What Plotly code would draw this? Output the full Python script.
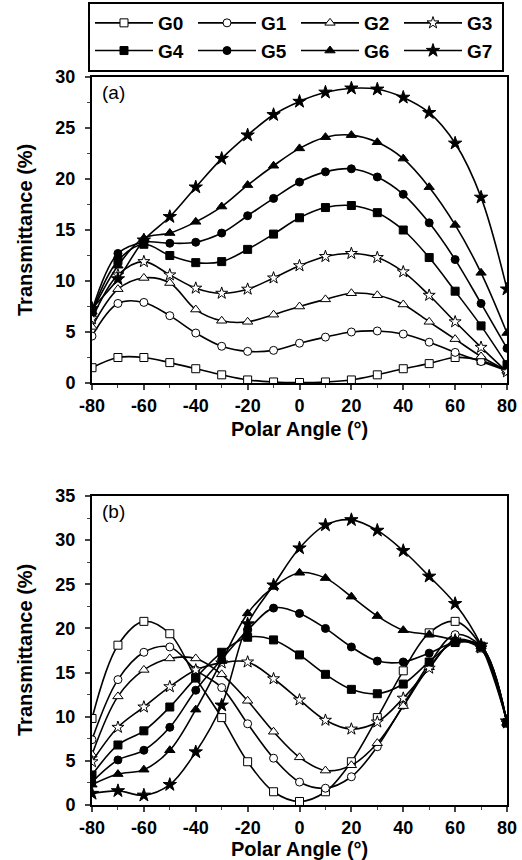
import plotly.graph_objects as go

angles = [-80, -70, -60, -50, -40, -30, -20, -10, 0, 10, 20, 30, 40, 50, 60, 70, 80]
names = ["G0", "G1", "G2", "G3", "G4", "G5", "G6", "G7"]

x_tickvals = [-80, -60, -40, -20, 0, 20, 40, 60, 80]
x_ticktext = ["-80", "-60", "-40", "-20", "0", "20", "40", "60", "80"]
ya_tickvals = [0, 5, 10, 15, 20, 25, 30]
yb_tickvals = [0, 5, 10, 15, 20, 25, 30, 35]
x_title = "Polar Angle (°)"
y_title = "Transmittance (%)"
panel_labels = ["(a)", "(b)"]

a_G0 = [1.5, 2.5, 2.5, 2.0, 1.4, 0.8, 0.3, 0.1, 0.05, 0.1, 0.3, 0.8, 1.4, 1.9, 2.5, 2.2, 1.2]
a_G1 = [4.6, 7.8, 7.9, 6.6, 4.9, 3.6, 3.1, 3.2, 3.9, 4.5, 5.0, 5.1, 4.8, 4.0, 3.0, 2.1, 1.2]
a_G2 = [5.5, 9.2, 10.3, 9.8, 7.2, 6.1, 6.0, 6.7, 7.5, 8.2, 8.8, 8.6, 7.7, 6.0, 4.3, 2.6, 1.2]
a_G3 = [6.3, 10.6, 11.9, 10.6, 9.3, 8.8, 9.2, 10.3, 11.5, 12.4, 12.7, 12.3, 10.9, 8.6, 6.0, 3.5, 1.1]
a_G4 = [7.0, 12.0, 13.6, 12.5, 11.8, 11.9, 13.1, 14.6, 16.2, 17.2, 17.4, 16.7, 15.0, 12.3, 9.0, 5.6, 1.8]
a_G5 = [7.1, 12.7, 13.8, 13.7, 13.8, 14.7, 16.4, 18.1, 19.7, 20.7, 21.0, 20.2, 18.5, 15.7, 12.1, 7.8, 3.4]
a_G6 = [7.0, 11.5, 14.2, 14.7, 15.8, 17.3, 19.4, 21.3, 23.0, 24.1, 24.3, 23.6, 22.0, 19.2, 15.5, 10.8, 4.9]
a_G7 = [7.3, 10.2, 14.0, 16.3, 19.2, 22.0, 24.3, 26.3, 27.6, 28.5, 28.9, 28.8, 28.0, 26.5, 23.5, 18.2, 9.2]

b_G0 = [9.8, 18.1, 20.8, 19.4, 14.4, 9.9, 4.9, 1.5, 0.4, 1.5, 4.9, 9.9, 15.2, 19.5, 20.8, 18.0, 9.3]
b_G1 = [7.4, 14.2, 17.3, 17.9, 15.3, 13.3, 9.2, 5.3, 2.6, 1.9, 3.2, 6.6, 11.3, 16.0, 19.3, 17.9, 9.3]
b_G2 = [5.7, 12.3, 15.3, 16.6, 16.6, 14.8, 11.8, 8.3, 5.4, 3.9, 4.5, 7.0, 11.2, 15.6, 18.5, 17.6, 9.3]
b_G3 = [4.9, 8.8, 11.1, 13.4, 15.3, 16.1, 16.2, 14.3, 11.9, 9.6, 8.6, 9.4, 12.1, 15.5, 18.7, 17.8, 9.3]
b_G4 = [3.4, 6.8, 8.4, 11.1, 14.4, 17.3, 19.0, 18.7, 17.0, 14.8, 13.1, 12.6, 13.7, 16.2, 18.4, 17.9, 9.3]
b_G5 = [2.6, 5.1, 6.2, 8.8, 13.0, 16.5, 19.8, 22.3, 21.7, 20.0, 17.9, 16.3, 16.2, 17.2, 18.4, 18.0, 9.3]
b_G6 = [2.3, 3.5, 4.0, 6.2, 10.8, 16.3, 21.7, 24.7, 26.3, 25.7, 23.6, 21.4, 19.8, 19.3, 18.7, 18.0, 9.3]
b_G7 = [1.3, 1.6, 1.1, 2.3, 6.0, 11.3, 20.5, 24.9, 29.1, 31.7, 32.3, 31.1, 28.8, 25.9, 22.8, 18.1, 9.5]

a_series = [a_G0, a_G1, a_G2, a_G3, a_G4, a_G5, a_G6, a_G7]
b_series = [b_G0, b_G1, b_G2, b_G3, b_G4, b_G5, b_G6, b_G7]

symbols = ["square", "circle", "triangle-up", "star", "square", "circle", "triangle-up", "star"]
fills = ["white"] * 4 + ["black"] * 4
sizes = [8, 8, 9, 9, 8, 8, 9, 10]

FONT = "Liberation Sans"

def b(s):
    return "<b>" + s + "</b>"

fig = go.Figure()
for i, name in enumerate(names):
    mk = dict(symbol=symbols[i], size=sizes[i], color=fills[i], line=dict(color="black", width=1))
    fig.add_trace(go.Scatter(x=angles, y=a_series[i], name=b(name), mode="lines+markers",
                             line=dict(color="black", width=1.6, shape="spline", smoothing=1.0),
                             marker=mk, xaxis="x", yaxis="y", legendgroup=name))
for i, name in enumerate(names):
    mk = dict(symbol=symbols[i], size=sizes[i], color=fills[i], line=dict(color="black", width=1))
    fig.add_trace(go.Scatter(x=angles, y=b_series[i], name=b(name), mode="lines+markers",
                             line=dict(color="black", width=1.6, shape="spline", smoothing=1.0),
                             marker=mk, xaxis="x2", yaxis="y2", legendgroup=name, showlegend=False))

tickfont = dict(family=FONT, size=18, color="black")
titlefont = dict(family=FONT, size=20, color="black")

def xax(anchor):
    return dict(range=[-80, 80], tickmode="array", tickvals=x_tickvals,
                ticktext=[b(t) for t in x_ticktext], ticks="outside",
                ticklen=5, tickwidth=1.5, showline=True, linewidth=2, linecolor="black",
                mirror=True, showgrid=False, zeroline=False, tickfont=tickfont,
                minor=dict(dtick=10, tick0=-80, ticks="outside", ticklen=3, tickwidth=1.2, showgrid=False),
                anchor=anchor, domain=[0, 1], automargin=False)

def yax(anchor, domain, rng, vals):
    return dict(range=rng, tickmode="array", tickvals=vals, ticktext=[b(str(v)) for v in vals],
                ticks="outside", ticklen=5, tickwidth=1.5, showline=True, linewidth=2,
                linecolor="black", mirror=True, showgrid=False, zeroline=False, tickfont=tickfont,
                ticklabelstandoff=6,
                minor=dict(dtick=2.5, tick0=0, ticks="outside", ticklen=3, tickwidth=1.2, showgrid=False),
                anchor=anchor, domain=domain, automargin=False)

# plot area in px: x 92..507, y 77..805 (height 728)
def py(px):
    return (805 - px) / 728.0

def px_x(px):
    return (px - 92) / 415.0

annotations = [
    dict(text=panel_labels[0], xref="x domain", yref="y domain", x=0.02, y=0.99, xanchor="left",
         yanchor="top", showarrow=False, font=dict(family=FONT, size=19, color="black")),
    dict(text=panel_labels[1], xref="x2 domain", yref="y2 domain", x=0.02, y=0.99, xanchor="left",
         yanchor="top", showarrow=False, font=dict(family=FONT, size=19, color="black")),
    dict(text=b(x_title), xref="paper", yref="paper", x=0.5, y=py(429), xanchor="center",
         yanchor="middle", showarrow=False, font=titlefont),
    dict(text=b(x_title), xref="paper", yref="paper", x=0.5, y=py(849), xanchor="center",
         yanchor="middle", showarrow=False, font=titlefont),
    dict(text=b(y_title), xref="paper", yref="paper", x=px_x(25), y=py(230), xanchor="center",
         yanchor="middle", textangle=-90, showarrow=False, font=titlefont),
    dict(text=b(y_title), xref="paper", yref="paper", x=px_x(25), y=py(650), xanchor="center",
         yanchor="middle", textangle=-90, showarrow=False, font=titlefont),
]

fig.update_layout(
    width=522, height=860,
    margin=dict(l=92, r=15, t=77, b=55, autoexpand=False),
    paper_bgcolor="white", plot_bgcolor="white",
    font=dict(family=FONT, color="black"),
    xaxis=xax("y"),
    yaxis=yax("x", [py(383), 1.0], [0, 30], ya_tickvals),
    xaxis2=xax("y2"),
    yaxis2=yax("x2", [0.0, py(496)], [0, 35], yb_tickvals),
    legend=dict(orientation="h", xref="container", yref="container",
                x=88 / 522, y=1 - 2 / 860, xanchor="left", yanchor="top",
                bordercolor="black", borderwidth=2, bgcolor="white",
                font=dict(family=FONT, size=19, color="black"),
                entrywidth=30, itemwidth=58, tracegroupgap=0, traceorder="normal"),
    showlegend=True,
    annotations=annotations,
)

fig.write_html("out.html", config={"displayModeBar": False},
               post_script="document.body.style.margin='0';document.body.style.overflow='hidden';")
